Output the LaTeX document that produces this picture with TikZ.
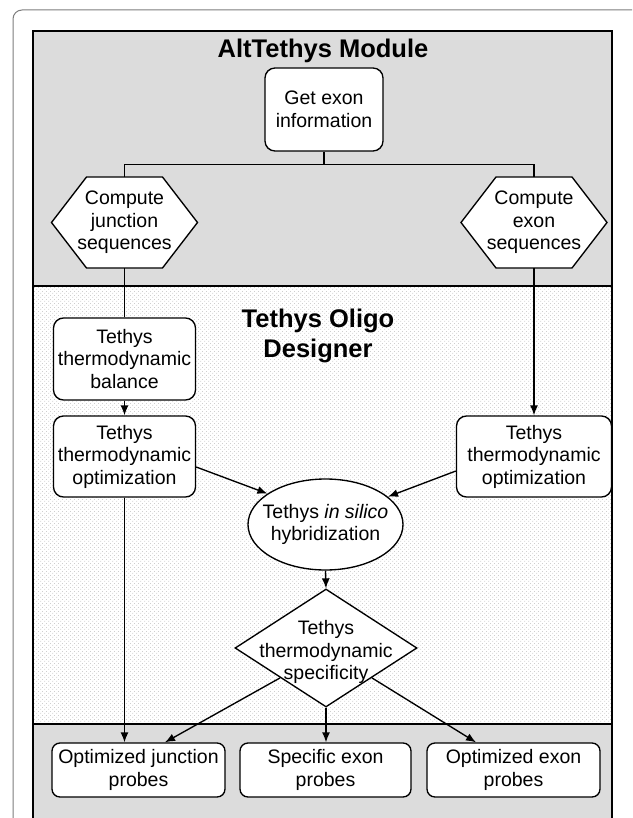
\documentclass[tikz,border=0pt]{standalone}
\usepackage{fontspec}
\setmainfont{Liberation Sans}
\usetikzlibrary{arrows.meta,shapes.geometric,patterns.meta}
\definecolor{panelgray}{RGB}{220,220,220}
\definecolor{framegray}{RGB}{125,125,125}
\definecolor{dotgray}{RGB}{170,170,170}
\tikzdeclarepattern{
  name=refdots,
  bounding box={(0pt,0pt) and (4pt,4pt)},
  tile size={(4pt,4pt)},
  code={\fill (1pt,1pt) circle (0.5pt); \fill (3pt,3pt) circle (0.5pt);}
}
\tikzset{
  txt/.style={font=\fontsize{19.5pt}{22.5pt}\selectfont, align=center},
  ttl/.style={font=\fontsize{25.5pt}{30pt}\selectfont\bfseries, align=center, inner sep=0pt},
  rbox/.style={txt, draw, fill=white, line width=1.35pt, rounded corners=10pt, inner sep=0pt},
  plaintxt/.style={txt, inner sep=0pt},
  shapeline/.style={draw, fill=white, line width=1.35pt},
  conn/.style={line width=1.35pt},
  arr/.style={conn, -{Latex[length=10pt,width=8pt]}},
}
\begin{document}
\begin{tikzpicture}[x=1pt,y=-1pt]
\useasboundingbox (0,0) rectangle (632,818);
\clip (0,0) rectangle (632,818);
% outer frame
\draw[framegray, line width=1pt, rounded corners=9pt] (13,840) -- (13,10) -- (660,10);
% panels
\fill[panelgray] (33,31) rectangle (612,286);
\fill[white] (33,286) rectangle (612,724);
\fill[pattern={refdots}, pattern color=dotgray] (33,286) rectangle (612,724);
\fill[panelgray] (33,724) rectangle (612,840);
\draw[line width=1.4pt] (33,286) -- (612,286);
\draw[line width=1.4pt] (33,724) -- (612,724);
\draw[line width=1.6pt] (33,840) -- (33,31) -- (612,31) -- (612,840);
% titles
\node[ttl, anchor=base] (t1) at (323,58) {AltTethys Module};
\node[ttl] (t2) at (318,336) {Tethys Oligo\\Designer};
% top box
\node[rbox, minimum width=118pt, minimum height=83pt] (getexon) at (324,109.5) {Get exon\\information};
% hexagons
\draw[shapeline] (51.5,222.5) -- (86.5,177) -- (162.5,177) -- (197.5,222.5) -- (162.5,268) -- (86.5,268) -- cycle;
\draw[shapeline] (461,222.5) -- (496,177) -- (572,177) -- (607,222.5) -- (572,268) -- (496,268) -- cycle;
\node[plaintxt, minimum width=146pt, minimum height=91pt] (hexL) at (124.5,222.5) {Compute\\junction\\sequences};
\node[plaintxt, minimum width=146pt, minimum height=91pt] (hexR) at (534,222.5) {Compute\\exon\\sequences};
% designer boxes
\node[rbox, minimum width=142pt, minimum height=82pt] (bal) at (124.5,359) {Tethys\\thermodynamic\\balance};
\node[rbox, minimum width=142pt, minimum height=81pt] (optL) at (124.5,456.5) {Tethys\\thermodynamic\\optimization};
\node[rbox, minimum width=155pt, minimum height=81pt] (optR) at (534,456.5) {Tethys\\thermodynamic\\optimization};
% ellipse
\node[shapeline, ellipse, minimum width=155pt, minimum height=91pt, inner sep=0pt] (hyb) at (325.5,524.5) {};
\node[plaintxt] (hybt) at (hyb.center) {Tethys \textit{in silico}\\hybridization};
% diamond
\node[shapeline, diamond, minimum width=182pt, minimum height=118pt, inner sep=0pt] (spec) at (326,648) {};
\node[plaintxt] (spect) at (326,652) {Tethys\\thermodynamic\\specificity};
% probes
\node[rbox, rounded corners=8pt, minimum width=173pt, minimum height=54pt] (probeL) at (138.5,770) {Optimized junction\\probes};
\node[rbox, rounded corners=8pt, minimum width=171pt, minimum height=54pt] (probeM) at (325.5,770) {Specific exon\\probes};
\node[rbox, rounded corners=8pt, minimum width=173pt, minimum height=54pt] (probeR) at (513.5,770) {Optimized exon\\probes};
% connectors
\draw[conn] (getexon.south) -- ++(0,13) coordinate (split);
\draw[conn] (hexL.north) |- (split) -| (hexR.north);
\draw[conn] (hexL.south) -- (bal.north);
\draw[arr] (bal.south) -- (optL.north);
\draw[arr] (hexR.south) -- (optR.north);
\draw[arr] ([yshift=-10.5pt]optL.east) -- (hyb.152);
\draw[arr] ([yshift=-14.5pt]optR.west) -- (hyb.24);
\draw[arr] (hyb.south) -- (spec.north);
\draw[arr] (optL.south) -- (optL.south |- probeL.north);
\draw[arr] (spec.south west) -- ([xshift=26.5pt]probeL.north);
\draw[arr] (spec.south) -- (spec.south |- probeM.north);
\draw[arr] (spec.south east) -- ([xshift=-37.5pt]probeR.north);
\end{tikzpicture}
\end{document}
